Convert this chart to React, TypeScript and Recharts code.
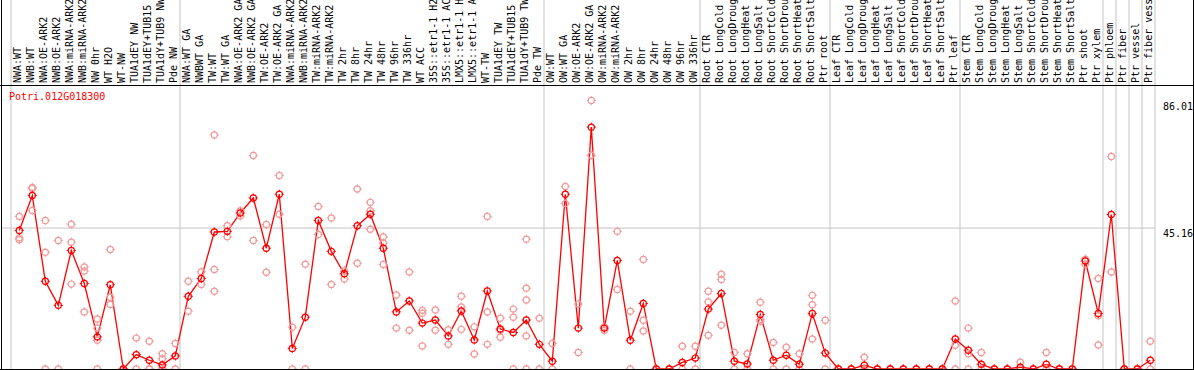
import React from 'react';
import { ComposedChart, Line, XAxis, YAxis, ReferenceLine } from 'recharts';

const title = 'Potri.012G018300';

const categories: string[] = [
  'NWA:WT', 'NWB:WT', 'NWA:OE-ARK2', 'NWB:OE-ARK2', 'NWA:miRNA-ARK2', 'NWB:miRNA-ARK2', 'NW 0hr', 'WT H2O', 'WT-NW',
  'TUA1dEY NW', 'TUA1dEY+TUB15 NW', 'TUA1dY+TUB9 NW', 'Pde NW',
  'NWA:WT GA', 'NWBWT GA', 'TW:WT', 'TW:WT GA', 'NWA:OE-ARK2 GA', 'NWB:OE-ARK2 GA', 'TW:OE-ARK2', 'TW:OE-ARK2 GA',
  'NWA:miRNA-ARK2', 'NWB:miRNA-ARK2', 'TW:miRNA-ARK2', 'TW:miRNA-ARK2', 'TW 2hr', 'TW 8hr', 'TW 24hr', 'TW 48hr',
  'TW 96hr', 'TW 336hr', 'WT ACC', '35S::etr1-1 H2O', '35S::etr1-1 ACC', 'LMX5::etr1-1 H2O', 'LMX5::etr1-1 ACC',
  'WT-TW', 'TUA1dEY TW', 'TUA1dEY+TUB15 TW', 'TUA1dY+TUB9 TW', 'Pde TW',
  'OW:WT', 'OW:WT GA', 'OW:OE-ARK2', 'OW:OE-ARK2 GA', 'OW:miRNA-ARK2', 'OW:miRNA-ARK2', 'OW 2hr', 'OW 8hr',
  'OW 24hr', 'OW 48hr', 'OW 96hr', 'OW 336hr',
  'Root CTR', 'Root LongCold', 'Root LongDrought', 'Root LongHeat', 'Root LongSalt', 'Root ShortCold',
  'Root ShortDrought', 'Root ShortHeat', 'Root ShortSalt', 'Ptr root',
  'Leaf CTR', 'Leaf LongCold', 'Leaf LongDrought', 'Leaf LongHeat', 'Leaf LongSalt', 'Leaf ShortCold',
  'Leaf ShortDrought', 'Leaf ShortHeat', 'Leaf ShortSalt', 'Ptr leaf',
  'Stem CTR', 'Stem LongCold', 'Stem LongDrought', 'Stem LongHeat', 'Stem LongSalt', 'Stem ShortCold',
  'Stem ShortDrought', 'Stem ShortHeat', 'Stem ShortSalt', 'Ptr shoot', 'Ptr xylem',
  'Ptr phloem', 'Ptr fiber', 'Ptr vessel', 'Ptr fiber vessel',
];

const means: number[] = [
  44.4, 55.6, 28.1, 20.4, 38.0, 27.4, 10.3, 27.0, 0, 4.6, 2.8, 1.3, 4.2,
  23.3, 29.0, 43.9, 44.1, 50.0, 54.8, 38.7, 56.0, 6.6, 16.6, 47.6, 37.7, 30.5, 45.9, 49.6, 38.7,
  18.3, 21.8, 14.7, 15.7, 10.6, 18.6, 9.3, 25.0, 12.8, 11.7, 15.7, 7.9,
  2.5, 56.0, 13.1, 77.5, 13.1, 34.8, 9.2, 21.0, 0, 0, 2.1, 3.5,
  19.2, 24.2, 2.5, 1.6, 17.5, 2.8, 4.4, 1.5, 17.8, 5.1,
  0, 0, 1.2, 0, 0, 0, 0, 0, 0, 9.6,
  6.0, 1.5, 0, 0, 0.6, 0, 1.5, 0, 0, 34.6, 17.8,
  49.5, 0, 0, 2.8,
];

const replicates: number[][] = [
  [48.9, 42.0, 41.4], [58.2, 57.8, 50.8], [47.6, 37.4, 0], [41.2, 0], [46.4, 40.6, 27.2], [32.7, 31.4, 18.3],
  [16.0, 13.1, 9.2, 0], [38.3, 23.0, 20.7], [0, 0], [9.9, 0], [8.9, 0, 0], [4.9, 3.3, 0, 0], [8.2, 0],
  [28.1, 18.5], [31.1, 27.1], [75.0, 31.9, 24.9], [45.9, 42.4], [50.7, 49.0], [68.4, 41.2], [46.3, 31.0],
  [62.0, 49.6], [13.4, 0], [33.6, 0], [52.1, 43.1], [48.4, 27.1], [31.4, 28.8], [57.7, 33.9],
  [53.4, 50.7, 44.8], [42.3, 40.4, 33.5], [23.7, 13.1], [31.1, 12.4], [18.8, 17.9, 7.4], [18.9, 12.4],
  [12.6, 7.9], [23.3, 19.9, 12.7], [13.5, 4.8], [48.9, 18.3, 7.9], [16.3, 12.4, 10.2], [19.2, 16.6, 0],
  [41.6, 25.9, 22.1, 10.6, 0], [16.3, 0],
  [8.2, 0], [58.5, 53.0], [20.8, 5.3], [86.01, 68.5], [13.5, 12.4], [44.1, 25.5], [18.5, 0],
  [35.1, 15.6, 12.2], [0, 0], [0, 0], [7.3, 0], [7.3, 0],
  [24.9, 21.5, 10.8], [30.4, 28.7, 14.0], [5.3, 0], [4.9, 0], [21.4, 15.8, 15.3], [8.5, 0], [7.0, 0],
  [4.9, 0], [23.6, 20.6, 9.6], [15.6, 0],
  [0, 0], [0, 0], [3.8, 0], [0, 0], [0, 0], [0, 0], [0, 0], [0, 0], [0, 0], [21.8, 7.6, 0],
  [13.1, 4.9, 0], [5.3, 0], [0, 0], [0, 0], [2.2, 0], [0, 0], [5.3, 0], [0, 0], [0, 0], [35.2, 33.6],
  [29.0, 17.1, 7.7],
  [68.1, 31.1], [0, 0], [0, 0], [8.9, 0],
];

const groupStarts: number[] = [0, 13, 41, 53, 63, 73, 84, 85, 86, 87];
const lastIndex = 87;
const yTicks: number[] = [0, 45.16, 86.01];
const gridValue = 45.16;
const yTopOfImage = 120;

const MAX_REPS = Math.max(...replicates.map((r) => r.length));
const repKeys = Array.from({ length: MAX_REPS }, (_, k) => 'r' + k);

const data = categories.map((c, i) => {
  const row: Record<string, any> = { idx: i, label: c, mean: means[i] };
  replicates[i].forEach((v, k) => {
    row['r' + k] = v;
  });
  return row;
});

const FONT = '"DejaVu Sans Mono", "Liberation Mono", monospace';
const RED = '#ff0000';
const PINK = '#f09c9c';
const GRID = '#c4c4c4';

const Marker = ({ cx, cy, color, r }: { cx: number; cy: number; color: string; r: number }) => (
  <g>
    <circle cx={cx} cy={cy} r={r} fill="none" stroke={color} strokeWidth={1.2} />
    <line x1={cx} y1={cy - r - 1.5} x2={cx} y2={cy - r + 0.8} stroke={color} strokeWidth={1} />
    <line x1={cx} y1={cy + r + 1.5} x2={cx} y2={cy + r - 0.8} stroke={color} strokeWidth={1} />
    <line x1={cx - r - 1.5} y1={cy} x2={cx - r + 0.8} y2={cy} stroke={color} strokeWidth={1} />
    <line x1={cx + r + 1.5} y1={cy} x2={cx + r - 0.8} y2={cy} stroke={color} strokeWidth={1} />
  </g>
);

const makeDot = (color: string, prefix: string) => (p: any) => {
  const key = `${prefix}-${p.index}`;
  if (p.value == null || p.cx == null || p.cy == null || isNaN(p.cy)) return <g key={key} />;
  return (
    <g key={key}>
      <Marker cx={p.cx} cy={p.cy} color={color} r={3.1} />
    </g>
  );
};

const TopTick = (p: any) => {
  const { x, payload } = p;
  const label = categories[payload.value];
  return (
    <g>
      <text
        x={0}
        y={0}
        transform={`translate(${x + 2}, 83) rotate(-90)`}
        fontFamily={FONT}
        fontSize={10}
        fill="#000"
      >
        {label}
      </text>
    </g>
  );
};

const RightTick = (p: any) => {
  const v = p.payload.value;
  const dy = v === 0 ? -4 : 9;
  return (
    <text x={p.x} y={p.y + dy} fontFamily={FONT} fontSize={10} fill="#000" textAnchor="start">
      {String(v)}
    </text>
  );
};

export default function App() {
  return (
    <div style={{ position: 'absolute', left: 0, top: 0, width: 1194, height: 370, background: '#fff' }}>
      <ComposedChart width={1194} height={370} data={data} margin={{ top: 0, right: 0, bottom: 1, left: 1 }}>
        <XAxis
          dataKey="idx"
          type="category"
          scale="band"
          orientation="top"
          height={85}
          interval={0}
          tick={<TopTick />}
          tickLine={false}
          axisLine={false}
          padding={{ left: 11.8, right: -1.8 }}
        />
        <XAxis
          xAxisId="grid"
          dataKey="idx"
          type="category"
          scale="band"
          orientation="top"
          hide
          padding={{ left: 10, right: 0 }}
        />
        <YAxis
          orientation="right"
          width={39}
          domain={[0, 91]}
          ticks={yTicks}
          tick={<RightTick />}
          tickLine={false}
          axisLine={false}
          allowDataOverflow
        />
        <ReferenceLine xAxisId="grid" y={gridValue} stroke={GRID} strokeWidth={1} />
        {groupStarts.map((g) => (
          <ReferenceLine
            key={'g' + g}
            xAxisId="grid"
            segment={[{ x: g, y: 0 }, { x: g, y: yTopOfImage }]}
            position="start"
            ifOverflow="visible"
            stroke={GRID}
            strokeWidth={1}
          />
        ))}
        <ReferenceLine
          xAxisId="grid"
          segment={[{ x: lastIndex, y: 0 }, { x: lastIndex, y: yTopOfImage }]}
          position="end"
          ifOverflow="visible"
          stroke={GRID}
          strokeWidth={1}
        />
        {repKeys.map((k) => (
          <Line
            key={k}
            dataKey={k}
            stroke="none"
            dot={makeDot(PINK, k)}
            activeDot={false}
            isAnimationActive={false}
            legendType="none"
          />
        ))}
        <Line
          dataKey="mean"
          stroke={RED}
          strokeWidth={1.3}
          dot={makeDot(RED, 'm')}
          activeDot={false}
          isAnimationActive={false}
        />
      </ComposedChart>
      <div
        style={{
          position: 'absolute',
          left: 9,
          top: 91,
          fontFamily: FONT,
          fontSize: 10,
          lineHeight: '12px',
          color: RED,
          whiteSpace: 'nowrap',
        }}
      >
        {title}
      </div>
      <div style={{ position: 'absolute', left: 1, top: 0, width: 1, height: 370, background: '#000' }} />
      <div style={{ position: 'absolute', left: 0, top: 85, width: 1194, height: 1, background: '#000' }} />
      <div style={{ position: 'absolute', left: 0, top: 369, width: 1194, height: 1, background: '#000' }} />
      <div style={{ position: 'absolute', left: 1193, top: 0, width: 1, height: 370, background: '#000' }} />
    </div>
  );
}
